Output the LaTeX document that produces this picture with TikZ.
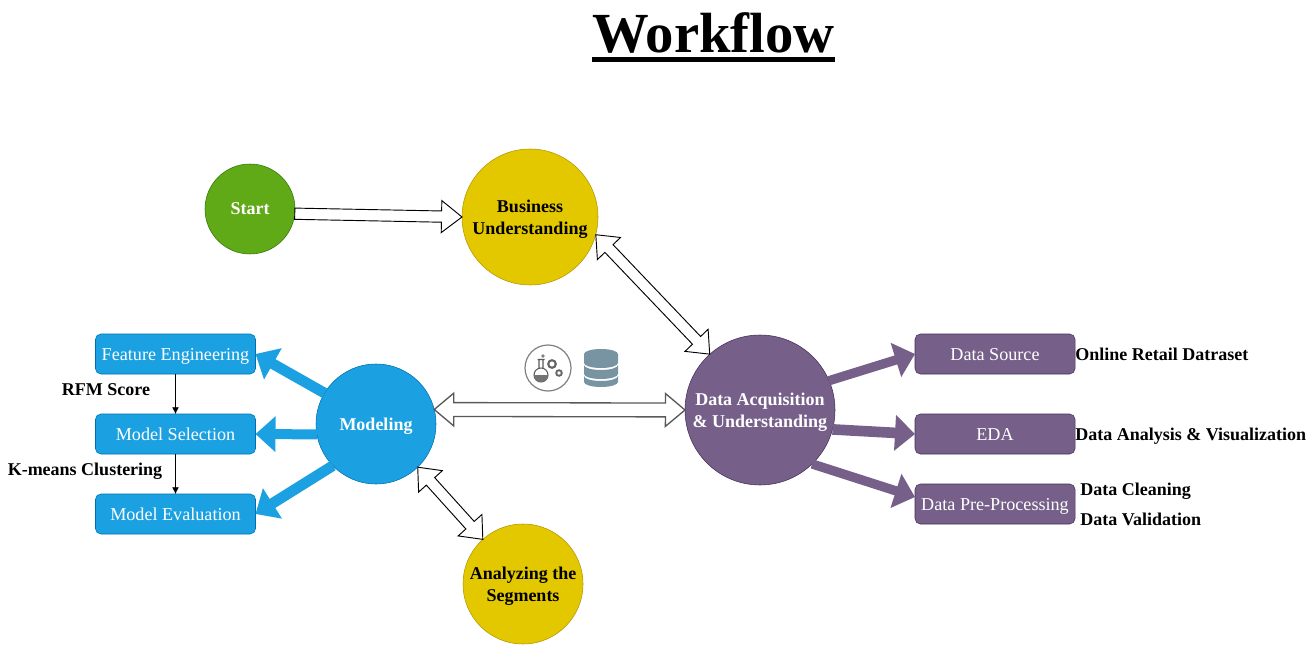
\documentclass[tikz,border=0pt]{standalone}
\usepackage{fontspec}
\setmainfont{Liberation Serif}
\usetikzlibrary{positioning,arrows.meta,calc,shapes.arrows}
\definecolor{bluefill}{HTML}{1BA1E2}
\definecolor{blueline}{HTML}{006EAF}
\definecolor{purplefill}{HTML}{76608A}
\definecolor{purpleline}{HTML}{432D57}
\definecolor{greenfill}{HTML}{60A917}
\definecolor{greenline}{HTML}{2D7600}
\definecolor{yellowfill}{HTML}{E3C800}
\definecolor{yellowline}{HTML}{B09500}
\definecolor{dbcolor}{HTML}{7893A2}

\begin{document}
\begin{tikzpicture}[
    x=0.75pt, y=-0.75pt,
    node distance=30pt and 0pt,
    bluebox/.style={draw=blueline, fill=bluefill, text=white, rounded corners=4pt, minimum width=120pt, minimum height=30pt, inner sep=0pt, outer sep=0pt, text height=9pt, text depth=0pt, font=\fontsize{13.6}{16}\selectfont},
    purplebox/.style={bluebox, draw=purpleline, fill=purplefill},
    stage/.style={draw, circle, inner sep=0pt, outer sep=0pt, align=center, text depth=0pt, font=\bfseries\fontsize{13.5}{16.5}\selectfont},
    note/.style={inner sep=0pt, text height=9pt, text depth=0pt, font=\bfseries\fontsize{13.5}{16}\selectfont},
    flow/.style={-{Latex[length=5pt,width=5pt]}},
    bluearrow/.style={bluefill, line width=#1, -{Triangle[length=15pt,width=26pt]}},
    purplearrow/.style={purplefill, line width=#1, -{Triangle[length=15pt,width=26pt]}},
    hollowone/.style={to path={
        let \p1=($(\tikztotarget)-(\tikztostart)$), \n1={veclen(\x1,\y1)}, \n2={atan2(\y1,\x1)} in
        (\tikztotarget) node[single arrow, anchor=tip, rotate=\n2, minimum height=\n1, minimum width=24pt, inner sep=3.5pt, outer sep=0pt, single arrow tip angle=76, hollowline, fill=white]{}}},
    hollowtwo/.style={to path={
        let \p1=($(\tikztotarget)-(\tikztostart)$), \n1={veclen(\x1,\y1)}, \n2={atan2(\y1,\x1)} in
        ($(\tikztostart)!.5!(\tikztotarget)$) node[double arrow, rotate=\n2, minimum height=\n1, minimum width=24pt, inner sep=#1, outer sep=0pt, double arrow tip angle=80, hollowline, fill=white]{}}},
    hollowtwo/.default=3.5pt,
    hollowline/.style={draw=black, line width=0.7pt}
]
\useasboundingbox (0,0) rectangle (1316,645);

\node[anchor=base, inner sep=0pt, font=\bfseries\fontsize{42.5}{48}\selectfont] (title) at (713.5,53) {Workflow};
\draw[line width=3.75pt] ([yshift=-4pt]title.south west) -- ([yshift=-4pt]title.south east);

\node[stage, minimum size=67.5pt, draw=greenline, fill=greenfill, text=white] (start) at (250,209) {Start};
\node[stage, minimum size=102pt, draw=yellowline, fill=yellowfill] (business) at (530,217) {Business\\Understanding};
\node[stage, minimum size=112.5pt, draw=purpleline, fill=purplefill, text=white] (data) at (760,410) {Data Acquisition\\\& Understanding};
\node[stage, minimum size=90pt, draw=blueline, fill=bluefill, text=white] (modeling) at (376,424) {Modeling};
\node[stage, minimum size=90pt, draw=yellowline, fill=yellowfill] (segments) at (523,584) {Analyzing the\\Segments};

\node[bluebox] (feature) at (175.5,354) {Feature Engineering};
\node[bluebox, below=of feature] (selection) {Model Selection};
\node[bluebox, below=of selection] (evaluation) {Model Evaluation};

\node[purplebox] (source) at (995,354) {Data Source};
\node[purplebox, below=of source] (eda) {EDA};
\node[purplebox, below=22.5pt of eda] (prep) {Data Pre-Processing};

\node[note, right=0pt of source] (retail) {Online Retail Datraset};
\node[note, right=0pt of eda] (analysis) {Data Analysis \& Visualization};
\node[note, anchor=west] (cleaning) at (1080,489) {Data Cleaning};
\node[note, anchor=west] (validation) at (1080,519) {Data Validation};
\node[note] (rfm) at (106,389) {RFM Score};
\node[note] (kmeans) at (85,469) {K-means Clustering};

\draw[flow] (feature) -- (selection);
\draw[flow] (selection) -- (evaluation);

\draw[hollowone] (start.-6) to (business.west);
\draw[hollowtwo] (business.-15) to (data.132);
\draw[hollowtwo=4.7pt, hollowline/.style={draw=black!65, line width=1pt}] (modeling.14) to (data.180);
\draw[hollowtwo] (modeling.-46) to (segments.132);

\draw[bluearrow=8pt] (modeling.149) -- (feature.east);
\draw[bluearrow=7.5pt] (modeling.190) -- (selection.east);
\draw[bluearrow=8pt] (modeling.224) -- (evaluation.east);

\draw[purplearrow=7pt] (data.23) -- (source.west);
\draw[purplearrow=8pt] (data.-15) -- (eda.west);
\draw[purplearrow=7pt] (data.-46) -- (prep.175);

\node[draw=black!50, line width=0.9pt, circle, minimum size=34.5pt, inner sep=0pt] (lab) at (548,368) {};
\draw[black!65, line width=0.8pt] (537.5,359.5) -- (544.5,359.5) (539,360) -- (539,368.3) (543,360) -- (543,368.3) (541,375) circle (7);
\fill[black!55] (534,375) arc (180:0:7) -- cycle;
\draw[black!60, line width=1.6pt] (552,364) circle (3.8);
\draw[black!60, line width=1.4pt] (559,373) circle (2.8);
\fill[black!50] (543,356) circle (1.8);

\fill[dbcolor] (584,354) arc (180:360:17 and 5) -- (618,363) arc (0:180:17 and 5) -- cycle;
\fill[dbcolor] (584,365) arc (180:0:17 and 5) -- (618,374) arc (0:180:17 and 5) -- cycle;
\fill[dbcolor] (584,376) arc (180:0:17 and 5) -- (618,382) arc (0:180:17 and 5) -- cycle;
\end{tikzpicture}
\end{document}
